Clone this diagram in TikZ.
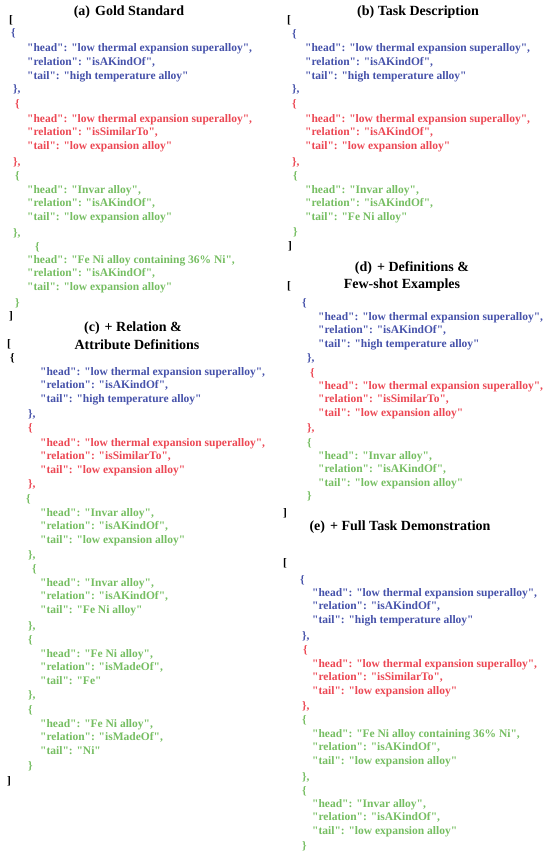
\documentclass[tikz,border=0pt]{standalone}
\usepackage{fontspec}
\setmainfont{Liberation Serif}[Ligatures=TeXOff]
\definecolor{jblue}{RGB}{70,82,170}
\definecolor{jred}{RGB}{236,72,84}
\definecolor{jgreen}{RGB}{118,190,98}
\tikzset{
  jt/.style={anchor=base west, inner sep=0pt, yshift=-4pt, font=\fontsize{11.5}{14}\selectfont\bfseries},
  ttl/.style={inner sep=0pt, font=\fontsize{14}{17}\selectfont\bfseries},
}
\newcommand\trip[7]{%
  \node[jt,text=#4] (#1h) at (#2,#3) {"head": "#5",};
  \node[jt,text=#4] (#1r) at (#2,#3+13.8) {"relation": "#6",};
  \node[jt,text=#4] (#1t) at (#2,#3+27.6) {"tail": "#7"};
}
\newcommand\brk[5]{\node[jt,text=#4] (#1) at (#2,#3) {#5};}
\begin{document}
\begin{tikzpicture}[x=1pt,y=-1pt]
\fill[white] (0,0) rectangle (550,856);
\path[use as bounding box] (0,0) rectangle (550,856);

% ---------- (a) ----------
\node[ttl] (ta) at (129,12) {(a)\hspace{5pt}Gold Standard};
\brk{a0}{9}{20}{black}{[}
\brk{a1}{11}{33}{jblue}{\{}
\trip{a1}{27}{48}{jblue}{low thermal expansion superalloy}{isAKindOf}{high temperature alloy}
\brk{a1e}{13}{89}{jblue}{\},}
\brk{a2}{15}{103}{jred}{\{}
\trip{a2}{27}{118}{jred}{low thermal expansion superalloy}{isSimilarTo}{low expansion alloy}
\brk{a2e}{13}{161}{jred}{\},}
\brk{a3}{15}{175}{jgreen}{\{}
\trip{a3}{27}{189}{jgreen}{Invar alloy}{isAKindOf}{low expansion alloy}
\brk{a3e}{13}{232}{jgreen}{\},}
\brk{a4}{35}{246}{jgreen}{\{}
\trip{a4}{27}{259}{jgreen}{Fe Ni alloy containing 36\% Ni}{isAKindOf}{low expansion alloy}
\brk{a4e}{15}{302}{jgreen}{\}}
\brk{a9}{9}{315}{black}{]}

% ---------- (b) ----------
\node[ttl] (tb) at (418,12) {(b) Task Description};
\brk{b0}{287}{20}{black}{[}
\brk{b1}{292}{34}{jblue}{\{}
\trip{b1}{305}{48}{jblue}{low thermal expansion superalloy}{isAKindOf}{high temperature alloy}
\brk{b1e}{292}{89}{jblue}{\},}
\brk{b2}{292}{103}{jred}{\{}
\trip{b2}{305}{118}{jred}{low thermal expansion superalloy}{isAKindOf}{low expansion alloy}
\brk{b2e}{292}{161}{jred}{\},}
\brk{b3}{293}{175}{jgreen}{\{}
\trip{b3}{305}{189}{jgreen}{Invar alloy}{isAKindOf}{Fe Ni alloy}
\brk{b3e}{293}{231}{jgreen}{\}}
\brk{b9}{288}{245}{black}{]}

% ---------- (c) ----------
\node[ttl] (tc1) at (133,328) {(c)\hspace{5pt}+ Relation \&};
\node[ttl] (tc2) at (137,345) {Attribute Definitions};
\brk{c0}{7}{343}{black}{[}
\brk{c1}{10}{357}{black}{\{}
\trip{c1}{40}{371}{jblue}{low thermal expansion superalloy}{isAKindOf}{high temperature alloy}
\brk{c1e}{28}{413}{jblue}{\},}
\brk{c2}{28}{427}{jred}{\{}
\trip{c2}{40}{442}{jred}{low thermal expansion superalloy}{isSimilarTo}{low expansion alloy}
\brk{c2e}{28}{483}{jred}{\},}
\brk{c3}{26}{498}{jgreen}{\{}
\trip{c3}{40}{512}{jgreen}{Invar alloy}{isAKindOf}{low expansion alloy}
\brk{c3e}{28}{554}{jgreen}{\},}
\brk{c4}{32}{568}{jgreen}{\{}
\trip{c4}{40}{582}{jgreen}{Invar alloy}{isAKindOf}{Fe Ni alloy}
\brk{c4e}{28}{625}{jgreen}{\},}
\brk{c5}{28}{639}{jgreen}{\{}
\trip{c5}{40}{653}{jgreen}{Fe Ni alloy}{isMadeOf}{Fe}
\brk{c5e}{28}{694}{jgreen}{\},}
\brk{c6}{28}{709}{jgreen}{\{}
\trip{c6}{40}{723}{jgreen}{Fe Ni alloy}{isMadeOf}{Ni}
\brk{c6e}{28}{765}{jgreen}{\}}
\brk{c9}{7}{780}{black}{]}

% ---------- (d) ----------
\node[ttl] (td1) at (412,268) {(d)\hspace{5pt}+ Definitions \&};
\node[ttl] (td2) at (402,285) {Few-shot Examples};
\brk{d0}{287}{285}{black}{[}
\brk{d1}{302}{302}{jblue}{\{}
\trip{d1}{318}{316}{jblue}{low thermal expansion superalloy}{isAKindOf}{high temperature alloy}
\brk{d1e}{307}{357}{jblue}{\},}
\brk{d2}{310}{372}{jred}{\{}
\trip{d2}{318}{385}{jred}{low thermal expansion superalloy}{isSimilarTo}{low expansion alloy}
\brk{d2e}{307}{427}{jred}{\},}
\brk{d3}{307}{442}{jgreen}{\{}
\trip{d3}{318}{455}{jgreen}{Invar alloy}{isAKindOf}{low expansion alloy}
\brk{d3e}{307}{495}{jgreen}{\}}
\brk{d9}{283}{512}{black}{]}

% ---------- (e) ----------
\node[ttl] (te) at (400,527) {(e)\hspace{5pt}+ Full Task Demonstration};
\brk{e0}{283}{562}{black}{[}
\brk{e1}{300}{579}{jblue}{\{}
\trip{e1}{312}{592}{jblue}{low thermal expansion superalloy}{isAKindOf}{high temperature alloy}
\brk{e1e}{302}{635}{jblue}{\},}
\brk{e2}{303}{649}{jred}{\{}
\trip{e2}{312}{663}{jred}{low thermal expansion superalloy}{isSimilarTo}{low expansion alloy}
\brk{e2e}{302}{705}{jred}{\},}
\brk{e3}{302}{719}{jgreen}{\{}
\trip{e3}{312}{733}{jgreen}{Fe Ni alloy containing 36\% Ni}{isAKindOf}{low expansion alloy}
\brk{e3e}{302}{776}{jgreen}{\},}
\brk{e4}{302}{790}{jgreen}{\{}
\trip{e4}{312}{803}{jgreen}{Invar alloy}{isAKindOf}{low expansion alloy}
\brk{e4e}{302}{845}{jgreen}{\}}
\end{tikzpicture}
\end{document}
